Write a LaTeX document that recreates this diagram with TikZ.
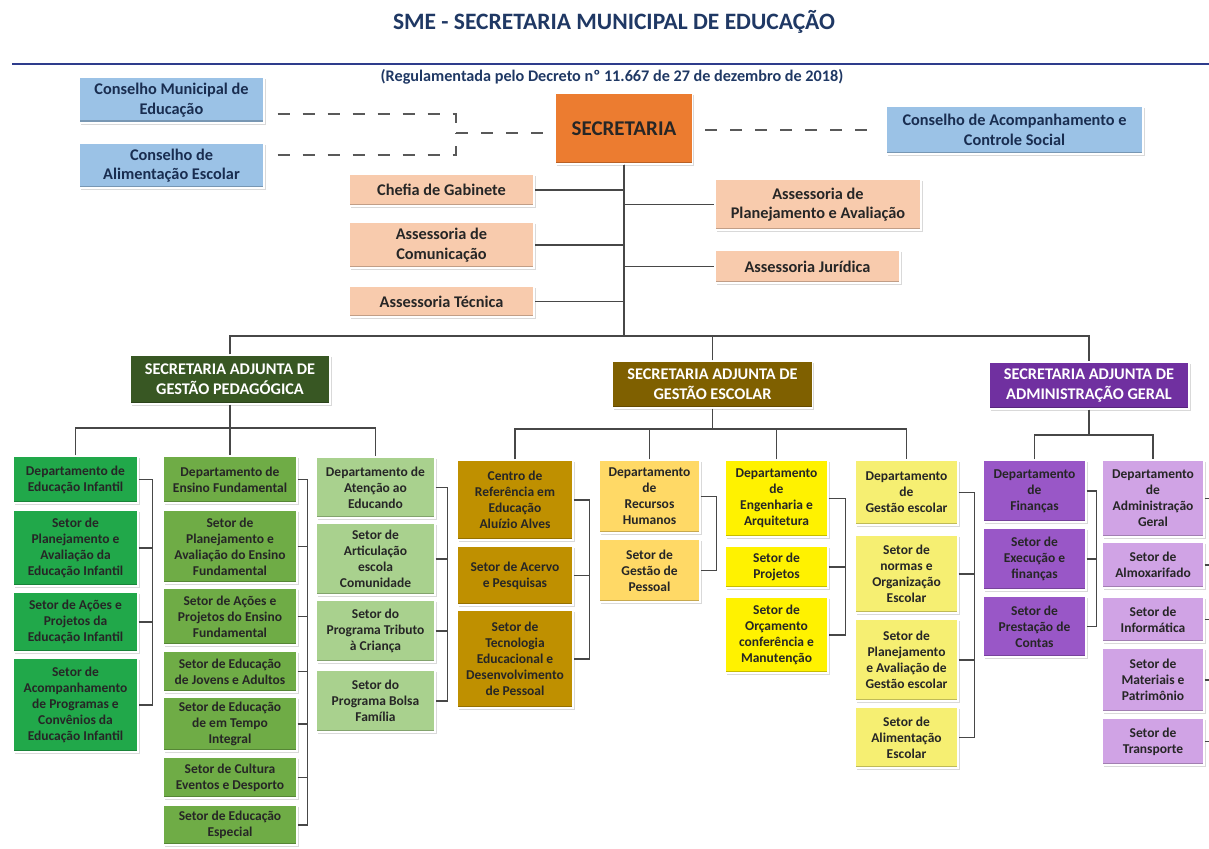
\documentclass[tikz,border=0pt]{standalone}
\usepackage{fontspec}
\setmainfont{Carlito}
\usetikzlibrary{shadows}
\definecolor{azulT}{HTML}{1F3864}
\definecolor{azulL}{HTML}{2E3C8C}
\definecolor{azulCx}{HTML}{9BC2E6}
\definecolor{laranja}{HTML}{EC7C30}
\definecolor{pessego}{HTML}{F8CBAD}
\definecolor{verdeEsc}{HTML}{385723}
\definecolor{marrom}{HTML}{7F6000}
\definecolor{roxo}{HTML}{7030A0}
\definecolor{verdeA}{HTML}{21A84A}
\definecolor{verdeB}{HTML}{6FAC46}
\definecolor{verdeC}{HTML}{A9D18E}
\definecolor{ouro}{HTML}{BF9000}
\definecolor{amarA}{HTML}{FFD966}
\definecolor{amarB}{HTML}{FFF200}
\definecolor{amarC}{HTML}{F6EF72}
\definecolor{roxoA}{HTML}{9957C7}
\definecolor{roxoB}{HTML}{D0A3E5}
\tikzset{
  caixa/.style={rectangle, draw=white, line width=1.2pt, align=center, inner sep=1pt,
    font=\bfseries\fontsize{13.5}{16}\selectfont, text=black!85,
    drop shadow={shadow xshift=1.5pt, shadow yshift=-2pt, opacity=.3},
    path picture={\fill[black,opacity=.22] (path picture bounding box.south west)
      rectangle ([yshift=2.5pt]path picture bounding box.south east);}},
  altura/.style={minimum height=#1pt},
  topo/.style={caixa, font=\bfseries\fontsize{16.3}{19.5}\selectfont},
  conselho/.style={topo, fill=azulCx, text=azulT!80!black},
  assessoria/.style={topo, fill=pessego, minimum width=185pt},
  adjunta/.style={caixa, font=\bfseries\fontsize{16.3}{20}\selectfont, text=white, minimum width=200pt},
  ped1/.style={caixa, fill=verdeA, minimum width=125pt},
  ped2/.style={caixa, fill=verdeB, minimum width=134pt},
  ped3/.style={caixa, fill=verdeC, minimum width=119pt},
  esc1/.style={caixa, fill=ouro, minimum width=116pt},
  esc2/.style={caixa, fill=amarA, minimum width=101pt},
  esc3/.style={caixa, fill=amarB, minimum width=103pt},
  esc4/.style={caixa, fill=amarC, minimum width=103pt},
  adm1/.style={caixa, fill=roxoA, minimum width=103pt},
  adm2/.style={caixa, fill=roxoB, minimum width=102pt},
  liga/.style={draw=black!72, line width=1.3pt},
  tracejado/.style={draw=black!65, line width=1.3pt, dash pattern=on 12pt off 13pt}
}
\begin{document}
\begin{tikzpicture}[x=1pt, y=-1pt]
  \useasboundingbox (0,0) rectangle (1209,848);
  % titulo
  \node[font=\bfseries\fontsize{23.5}{28}\selectfont, text=azulT] (tit) at (614,22) {SME - SECRETARIA MUNICIPAL DE EDUCAÇÃO};
  \draw[azulL, line width=1.6pt] (12,64) -- (1212,64);
  \node[font=\bfseries\fontsize{16.2}{19}\selectfont, text=azulT] (sub) at (612,77) {(Regulamentada pelo Decreto nº 11.667 de 27 de dezembro de 2018)};

  % secretaria e conselhos
  \node[caixa, fill=laranja, minimum width=137pt, altura=71, font=\bfseries\fontsize{21}{25}\selectfont] (sec) at (624,128.5) {SECRETARIA};
  \node[conselho, minimum width=185pt, altura=46] (cme) at (171.5,100) {Conselho Municipal de\\Educação};
  \node[conselho, minimum width=185pt, altura=45] (cae) at (171.5,165.5) {Conselho de\\Alimentação Escolar};
  \node[conselho, minimum width=257pt, altura=48] (cacs) at (1014.5,130) {Conselho de Acompanhamento e\\Controle Social};

  % assessorias
  \node[assessoria, altura=32] (chefia) at (441.5,190) {Chefia de Gabinete};
  \node[assessoria, altura=46] (acom) at (441.5,245) {Assessoria de\\Comunicação};
  \node[assessoria, altura=31] (atec) at (441.5,301.5) {Assessoria Técnica};
  \node[assessoria, minimum width=206pt, altura=51] (apa) at (818,204.5) {Assessoria de\\Planejamento e Avaliação};
  \node[assessoria, altura=33] (ajur) at (807.5,266.5) {Assessoria Jurídica};

  % secretarias adjuntas
  \node[adjunta, fill=verdeEsc, altura=49] (sapd) at (230,379.5) {SECRETARIA ADJUNTA DE\\GESTÃO PEDAGÓGICA};
  \node[adjunta, fill=marrom, altura=47] (sage) at (712.5,384.5) {SECRETARIA ADJUNTA DE\\GESTÃO ESCOLAR};
  \node[adjunta, fill=roxo, altura=47] (saag) at (1089,385.5) {SECRETARIA ADJUNTA DE\\ADMINISTRAÇÃO GERAL};

  % gestao pedagogica
  \node[ped1, altura=47] (p1a) at (75.5,479.5) {Departamento de\\Educação Infantil};
  \node[ped1, altura=76] (p1b) at (75.5,548) {Setor de\\Planejamento e\\Avaliação da\\Educação Infantil};
  \node[ped1, altura=60] (p1c) at (75.5,622) {Setor de Ações e\\Projetos da\\Educação Infantil};
  \node[ped1, altura=94] (p1d) at (75.5,705) {Setor de\\Acompanhamento\\de Programas e\\Convênios da\\Educação Infantil};

  \node[ped2, altura=47] (p2a) at (230,479.5) {Departamento de\\Ensino Fundamental};
  \node[ped2, altura=73] (p2b) at (230,546.5) {Setor de\\Planejamento e\\Avaliação do Ensino\\Fundamental};
  \node[ped2, altura=57] (p2c) at (230,616.5) {Setor de Ações e\\Projetos do Ensino\\Fundamental};
  \node[ped2, altura=41] (p2d) at (230,671.5) {Setor de Educação\\de Jovens e Adultos};
  \node[ped2, altura=54] (p2e) at (230,724) {Setor de Educação\\de em Tempo\\Integral};
  \node[ped2, altura=41] (p2f) at (230,777.5) {Setor de Cultura\\Eventos e Desporto};
  \node[ped2, altura=40] (p2g) at (230,825) {Setor de Educação\\Especial};

  \node[ped3, altura=61] (p3a) at (375.5,487.5) {Departamento de\\Atenção ao\\Educando};
  \node[ped3, altura=72] (p3b) at (375.5,559) {Setor de\\Articulação\\escola\\Comunidade};
  \node[ped3, altura=62] (p3c) at (375.5,631) {Setor do\\Programa Tributo\\à Criança};
  \node[ped3, altura=62] (p3d) at (375.5,701) {Setor do\\Programa Bolsa\\Família};

  % gestao escolar
  \node[esc1, altura=80] (e1a) at (515,500) {Centro de\\Referência em\\Educação\\Aluízio Alves};
  \node[esc1, altura=59] (e1b) at (515,575.5) {Setor de Acervo\\e Pesquisas};
  \node[esc1, altura=98] (e1c) at (515,659) {Setor de\\Tecnologia\\Educacional e\\Desenvolvimento\\de Pessoal};

  \node[esc2, altura=73] (e2a) at (649.5,496.5) {Departamento\\de\\Recursos\\Humanos};
  \node[esc2, altura=63] (e2b) at (649.5,570.5) {Setor de\\Gestão de\\Pessoal};

  \node[esc3, altura=77] (e3a) at (776.5,498.5) {Departamento\\de\\Engenharia e\\Arquitetura};
  \node[esc3, altura=42] (e3b) at (776.5,567) {Setor de\\Projetos};
  \node[esc3, altura=76] (e3c) at (776.5,635) {Setor de\\Orçamento\\conferência e\\Manutenção};

  \node[esc4, altura=65] (e4a) at (906.5,492.5) {Departamento\\de\\Gestão escolar};
  \node[esc4, altura=78] (e4b) at (906.5,574) {Setor de\\normas e\\Organização\\Escolar};
  \node[esc4, altura=82] (e4c) at (906.5,660) {Setor de\\Planejamento\\e Avaliação de\\Gestão escolar};
  \node[esc4, altura=61] (e4d) at (906.5,737.5) {Setor de\\Alimentação\\Escolar};

  % administracao geral
  \node[adm1, altura=62] (a1a) at (1034.5,491) {Departamento\\de\\Finanças};
  \node[adm1, altura=62] (a1b) at (1034.5,559) {Setor de\\Execução e\\finanças};
  \node[adm1, altura=61] (a1c) at (1034.5,626.5) {Setor de\\Prestação de\\Contas};

  \node[adm2, altura=77] (a2a) at (1153,498.5) {Departamento\\de\\Administração\\Geral};
  \node[adm2, altura=46] (a2b) at (1153,565) {Setor de\\Almoxarifado};
  \node[adm2, altura=45] (a2c) at (1153,619.5) {Setor de\\Informática};
  \node[adm2, altura=64] (a2d) at (1153,680) {Setor de\\Materiais e\\Patrimônio};
  \node[adm2, altura=47] (a2e) at (1153,741.5) {Setor de\\Transporte};

  % ligacoes tracejadas
  \coordinate (dj) at (456,133);
  \draw[tracejado, shorten <=13pt] ([yshift=-14pt]cme.east) -| (dj);
  \draw[tracejado, shorten <=13pt] ([yshift=10.5pt]cae.east) -| (dj);
  \draw[tracejado, shorten >=10pt] (dj) -- (dj -| sec.west);
  \draw[tracejado, shorten <=12pt, shorten >=8pt] (sec.east |- cacs.west) -- (cacs.west);

  % ligacoes da secretaria
  \foreach \n in {chefia,acom,atec} \draw[liga] (sec.south) |- (\n.east);
  \foreach \n in {apa,ajur} \draw[liga] (sec.south) |- (\n.west);
  \coordinate (barra) at (624,336);
  \draw[liga] (sec.south) -- (barra);
  \draw[liga] (sapd.north) |- (barra) -| (saag.north);
  \draw[liga] (sage.north) -- (sage.north |- barra);

  % barras das adjuntas
  \coordinate (bp) at (230,428);
  \draw[liga] (sapd.south) -- (p2a.north);
  \draw[liga] (p1a.north) |- (bp) -| (p3a.north);
  \coordinate (be) at (712.5,429);
  \draw[liga] (sage.south) -- (be);
  \draw[liga] (e1a.north) |- (be) -| (e4a.north);
  \draw[liga] (e2a.north) -- (e2a.north |- be);
  \draw[liga] (e3a.north) -- (e3a.north |- be);
  \coordinate (ba) at (1089,435);
  \draw[liga] (saag.south) -- (ba);
  \draw[liga] (a1a.north) |- (ba) -| (a2a.north);

  % colchetes laterais
  \foreach \a/\b/\d in {p1a/p1d/14, p2a/p2g/10, p3a/p3d/12, e1a/e1c/16, e2a/e2b/16, e3a/e3c/17, e4a/e4d/16, a1a/a1c/10}
    \draw[liga] (\a.east) -- ++(\d,0) |- (\b.east);
  \foreach \n/\d in {p1b/14, p1c/14, p2b/10, p2c/10, p2d/10, p2e/10, p2f/10, p3b/12, p3c/12, e1b/16, e3b/17, e4b/16, e4c/16, a1b/10}
    \draw[liga] (\n.east) -- ++(\d,0);
  \foreach \n in {a2a,a2b,a2c,a2d,a2e} \draw[liga] (\n.east) -- ++(10,0);
\end{tikzpicture}
\end{document}
